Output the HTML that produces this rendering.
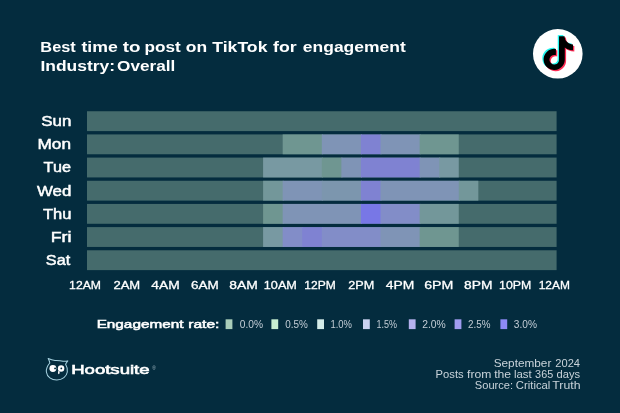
<!DOCTYPE html>
<html lang="en"><head><meta charset="utf-8"><title>Best time to post on TikTok for engagement</title>
<style>
html,body{margin:0;padding:0;background:#042C3E;}
body{width:620px;height:413px;overflow:hidden;}
svg{display:block}
text{font-family:'Liberation Sans', sans-serif;}
</style></head><body>
<svg width="620" height="413" viewBox="0 0 620 413">
<rect width="620" height="413" fill="#042C3E"/>
<text x="40.36" y="51.9" font-size="14.6" font-weight="bold" fill="#fff" textLength="35.38" lengthAdjust="spacingAndGlyphs">Best</text>
<text x="81.46" y="51.9" font-size="14.6" font-weight="bold" fill="#fff" textLength="36.36" lengthAdjust="spacingAndGlyphs">time</text>
<text x="122.84" y="51.9" font-size="14.6" font-weight="bold" fill="#fff" textLength="17.72" lengthAdjust="spacingAndGlyphs">to</text>
<text x="144.56" y="51.9" font-size="14.6" font-weight="bold" fill="#fff" textLength="36.23" lengthAdjust="spacingAndGlyphs">post</text>
<text x="185.83" y="51.9" font-size="14.6" font-weight="bold" fill="#fff" textLength="21.34" lengthAdjust="spacingAndGlyphs">on</text>
<text x="212.26" y="51.9" font-size="14.6" font-weight="bold" fill="#fff" textLength="55.21" lengthAdjust="spacingAndGlyphs">TikTok</text>
<text x="273.14" y="51.9" font-size="14.6" font-weight="bold" fill="#fff" textLength="23.63" lengthAdjust="spacingAndGlyphs">for</text>
<text x="302.86" y="51.9" font-size="14.6" font-weight="bold" fill="#fff" textLength="102.85" lengthAdjust="spacingAndGlyphs">engagement</text>
<text x="40.46" y="71.3" font-size="14.6" font-weight="bold" fill="#fff" textLength="74.65" lengthAdjust="spacingAndGlyphs">Industry:</text>
<text x="117.10" y="71.3" font-size="14.6" font-weight="bold" fill="#fff" textLength="58.24" lengthAdjust="spacingAndGlyphs">Overall</text>
<rect x="87.0" y="111.25" width="469.60" height="19.85" fill="#456B6C"/>
<text x="41.33" y="126.15" font-size="14" font-weight="normal" fill="#fff" textLength="30.14" lengthAdjust="spacingAndGlyphs" stroke="#fff" stroke-width="0.45">Sun</text>
<rect x="87.0" y="134.42" width="469.60" height="19.85" fill="#456B6C"/>
<rect x="282.67" y="134.42" width="40.13" height="19.85" fill="#6F9691"/>
<rect x="321.80" y="134.42" width="40.13" height="19.85" fill="#7F94B6"/>
<rect x="360.93" y="134.42" width="20.57" height="19.85" fill="#7F82D2"/>
<rect x="380.50" y="134.42" width="40.13" height="19.85" fill="#7F94B6"/>
<rect x="419.63" y="134.42" width="39.13" height="19.85" fill="#6F9691"/>
<text x="37.49" y="149.32" font-size="14" font-weight="normal" fill="#fff" textLength="33.52" lengthAdjust="spacingAndGlyphs" stroke="#fff" stroke-width="0.45">Mon</text>
<rect x="87.0" y="157.59" width="469.60" height="19.85" fill="#456B6C"/>
<rect x="263.10" y="157.59" width="59.70" height="19.85" fill="#7899A2"/>
<rect x="321.80" y="157.59" width="20.57" height="19.85" fill="#6F9691"/>
<rect x="341.37" y="157.59" width="20.57" height="19.85" fill="#7F94B6"/>
<rect x="360.93" y="157.59" width="59.70" height="19.85" fill="#7F82D2"/>
<rect x="419.63" y="157.59" width="20.57" height="19.85" fill="#7F94B6"/>
<rect x="439.20" y="157.59" width="19.57" height="19.85" fill="#7899A2"/>
<text x="43.64" y="172.49" font-size="14" font-weight="normal" fill="#fff" textLength="27.27" lengthAdjust="spacingAndGlyphs" stroke="#fff" stroke-width="0.45">Tue</text>
<rect x="87.0" y="180.76" width="469.60" height="19.85" fill="#456B6C"/>
<rect x="263.10" y="180.76" width="20.57" height="19.85" fill="#73979A"/>
<rect x="282.67" y="180.76" width="40.13" height="19.85" fill="#7F94B6"/>
<rect x="321.80" y="180.76" width="40.13" height="19.85" fill="#7C96AE"/>
<rect x="360.93" y="180.76" width="20.57" height="19.85" fill="#7F82D2"/>
<rect x="380.50" y="180.76" width="79.27" height="19.85" fill="#7F94B6"/>
<rect x="458.77" y="180.76" width="19.57" height="19.85" fill="#73979A"/>
<text x="37.03" y="195.66" font-size="14" font-weight="normal" fill="#fff" textLength="34.38" lengthAdjust="spacingAndGlyphs" stroke="#fff" stroke-width="0.45">Wed</text>
<rect x="87.0" y="203.93" width="469.60" height="19.85" fill="#456B6C"/>
<rect x="263.10" y="203.93" width="20.57" height="19.85" fill="#6F9691"/>
<rect x="282.67" y="203.93" width="79.27" height="19.85" fill="#7F94B6"/>
<rect x="360.93" y="203.93" width="20.57" height="19.85" fill="#7877E6"/>
<rect x="380.50" y="203.93" width="40.13" height="19.85" fill="#828DC8"/>
<rect x="419.63" y="203.93" width="39.13" height="19.85" fill="#73979A"/>
<text x="43.01" y="218.83" font-size="14" font-weight="normal" fill="#fff" textLength="28.47" lengthAdjust="spacingAndGlyphs" stroke="#fff" stroke-width="0.45">Thu</text>
<rect x="87.0" y="227.10" width="469.60" height="19.85" fill="#456B6C"/>
<rect x="263.10" y="227.10" width="20.57" height="19.85" fill="#7899A2"/>
<rect x="282.67" y="227.10" width="20.57" height="19.85" fill="#828DC8"/>
<rect x="302.23" y="227.10" width="20.57" height="19.85" fill="#7F82D2"/>
<rect x="321.80" y="227.10" width="59.70" height="19.85" fill="#828DC8"/>
<rect x="380.50" y="227.10" width="40.13" height="19.85" fill="#7F94B6"/>
<rect x="419.63" y="227.10" width="39.13" height="19.85" fill="#6F9691"/>
<text x="50.69" y="242.0" font-size="14" font-weight="normal" fill="#fff" textLength="20.81" lengthAdjust="spacingAndGlyphs" stroke="#fff" stroke-width="0.45">Fri</text>
<rect x="87.0" y="250.27" width="469.60" height="19.85" fill="#456B6C"/>
<text x="45.83" y="265.17" font-size="14" font-weight="normal" fill="#fff" textLength="24.32" lengthAdjust="spacingAndGlyphs" stroke="#fff" stroke-width="0.45">Sat</text>
<text x="69.12" y="288.6" font-size="11.6" font-weight="normal" fill="#fff" textLength="31.90" lengthAdjust="spacingAndGlyphs" stroke="#fff" stroke-width="0.3">12AM</text>
<text x="113.41" y="288.6" font-size="11.6" font-weight="normal" fill="#fff" textLength="26.79" lengthAdjust="spacingAndGlyphs" stroke="#fff" stroke-width="0.3">2AM</text>
<text x="151.27" y="288.6" font-size="11.6" font-weight="normal" fill="#fff" textLength="28.38" lengthAdjust="spacingAndGlyphs" stroke="#fff" stroke-width="0.3">4AM</text>
<text x="191.09" y="288.6" font-size="11.6" font-weight="normal" fill="#fff" textLength="27.77" lengthAdjust="spacingAndGlyphs" stroke="#fff" stroke-width="0.3">6AM</text>
<text x="229.35" y="288.6" font-size="11.6" font-weight="normal" fill="#fff" textLength="28.57" lengthAdjust="spacingAndGlyphs" stroke="#fff" stroke-width="0.3">8AM</text>
<text x="263.80" y="288.6" font-size="11.6" font-weight="normal" fill="#fff" textLength="33.08" lengthAdjust="spacingAndGlyphs" stroke="#fff" stroke-width="0.3">10AM</text>
<text x="304.30" y="288.6" font-size="11.6" font-weight="normal" fill="#fff" textLength="31.46" lengthAdjust="spacingAndGlyphs" stroke="#fff" stroke-width="0.3">12PM</text>
<text x="348.18" y="288.6" font-size="11.6" font-weight="normal" fill="#fff" textLength="26.02" lengthAdjust="spacingAndGlyphs" stroke="#fff" stroke-width="0.3">2PM</text>
<text x="385.77" y="288.6" font-size="11.6" font-weight="normal" fill="#fff" textLength="28.53" lengthAdjust="spacingAndGlyphs" stroke="#fff" stroke-width="0.3">4PM</text>
<text x="424.17" y="288.6" font-size="11.6" font-weight="normal" fill="#fff" textLength="29.17" lengthAdjust="spacingAndGlyphs" stroke="#fff" stroke-width="0.3">6PM</text>
<text x="464.05" y="288.6" font-size="11.6" font-weight="normal" fill="#fff" textLength="28.38" lengthAdjust="spacingAndGlyphs" stroke="#fff" stroke-width="0.3">8PM</text>
<text x="499.09" y="288.6" font-size="11.6" font-weight="normal" fill="#fff" textLength="32.21" lengthAdjust="spacingAndGlyphs" stroke="#fff" stroke-width="0.3">10PM</text>
<text x="538.66" y="288.6" font-size="11.6" font-weight="normal" fill="#fff" textLength="31.28" lengthAdjust="spacingAndGlyphs" stroke="#fff" stroke-width="0.3">12AM</text>
<text x="96.65" y="328" font-size="11.8" font-weight="normal" fill="#fff" textLength="86.79" lengthAdjust="spacingAndGlyphs" stroke="#fff" stroke-width="0.55">Engagement</text>
<text x="188.28" y="328" font-size="11.8" font-weight="normal" fill="#fff" textLength="31.15" lengthAdjust="spacingAndGlyphs" stroke="#fff" stroke-width="0.55">rate:</text>
<rect x="225.6" y="319.3" width="6.8" height="9.8" fill="#A9CDB9"/>
<text x="239.86" y="327.8" font-size="10.5" font-weight="normal" fill="#C3CDD6" textLength="23.27" lengthAdjust="spacingAndGlyphs">0.0%</text>
<rect x="271.4" y="319.3" width="6.8" height="9.8" fill="#C8F0D2"/>
<text x="285.26" y="327.8" font-size="10.5" font-weight="normal" fill="#C3CDD6" textLength="22.60" lengthAdjust="spacingAndGlyphs">0.5%</text>
<rect x="317.2" y="319.3" width="6.8" height="9.8" fill="#D4ECE8"/>
<text x="330.38" y="327.8" font-size="10.5" font-weight="normal" fill="#C3CDD6" textLength="21.56" lengthAdjust="spacingAndGlyphs">1.0%</text>
<rect x="363.0" y="319.3" width="6.8" height="9.8" fill="#C9D2F0"/>
<text x="376.59" y="327.8" font-size="10.5" font-weight="normal" fill="#C3CDD6" textLength="20.47" lengthAdjust="spacingAndGlyphs">1.5%</text>
<rect x="408.8" y="319.3" width="6.8" height="9.8" fill="#B5B1EE"/>
<text x="422.18" y="327.8" font-size="10.5" font-weight="normal" fill="#C3CDD6" textLength="23.58" lengthAdjust="spacingAndGlyphs">2.0%</text>
<rect x="454.6" y="319.3" width="6.8" height="9.8" fill="#A09CF0"/>
<text x="468.03" y="327.8" font-size="10.5" font-weight="normal" fill="#C3CDD6" textLength="22.39" lengthAdjust="spacingAndGlyphs">2.5%</text>
<rect x="500.4" y="319.3" width="6.8" height="9.8" fill="#8E8AF8"/>
<text x="513.87" y="327.8" font-size="10.5" font-weight="normal" fill="#C3CDD6" textLength="23.15" lengthAdjust="spacingAndGlyphs">3.0%</text>
<text x="493.67" y="367" font-size="10.2" font-weight="normal" fill="#C9D3DA" textLength="57.67" lengthAdjust="spacingAndGlyphs">September</text>
<text x="555.32" y="367" font-size="10.2" font-weight="normal" fill="#C9D3DA" textLength="24.75" lengthAdjust="spacingAndGlyphs">2024</text>
<text x="435.62" y="378.1" font-size="10.2" font-weight="normal" fill="#C9D3DA" textLength="28.08" lengthAdjust="spacingAndGlyphs">Posts</text>
<text x="467.09" y="378.1" font-size="10.2" font-weight="normal" fill="#C9D3DA" textLength="24.31" lengthAdjust="spacingAndGlyphs">from</text>
<text x="494.17" y="378.1" font-size="10.2" font-weight="normal" fill="#C9D3DA" textLength="16.98" lengthAdjust="spacingAndGlyphs">the</text>
<text x="513.94" y="378.1" font-size="10.2" font-weight="normal" fill="#C9D3DA" textLength="17.73" lengthAdjust="spacingAndGlyphs">last</text>
<text x="535.14" y="378.1" font-size="10.2" font-weight="normal" fill="#C9D3DA" textLength="18.05" lengthAdjust="spacingAndGlyphs">365</text>
<text x="556.60" y="378.1" font-size="10.2" font-weight="normal" fill="#C9D3DA" textLength="23.58" lengthAdjust="spacingAndGlyphs">days</text>
<text x="474.84" y="389.2" font-size="10.2" font-weight="normal" fill="#C9D3DA" textLength="38.19" lengthAdjust="spacingAndGlyphs">Source:</text>
<text x="515.87" y="389.2" font-size="10.2" font-weight="normal" fill="#C9D3DA" textLength="34.46" lengthAdjust="spacingAndGlyphs">Critical</text>
<text x="552.26" y="389.2" font-size="10.2" font-weight="normal" fill="#C9D3DA" textLength="28.25" lengthAdjust="spacingAndGlyphs">Truth</text>
<path d="M48.2 358.5 C50.5 359.6 53 360.3 55 360.5 C58 360.4 61 360.7 63 361.3 C64.8 361.4 66.4 361.2 67.8 360.9 C67 362 66.2 363 65.6 364.2 C67 366.5 67.7 369.5 67.3 372 C66.6 376.5 62.5 380 56.8 380 C51.5 380 47 377 46.4 372 C46.1 369 47.5 365.5 49.8 363 C49.6 361.5 49 360 48.2 358.5 Z" fill="none" stroke="#A6D2E0" stroke-width="1.05" stroke-linejoin="round"/>
<circle cx="52.9" cy="368.5" r="3.45" fill="#fff"/><circle cx="61.1" cy="368.5" r="3.2" fill="#fff"/>
<circle cx="55.1" cy="368.4" r="0.95" fill="#042C3E"/><circle cx="61.3" cy="368.4" r="0.9" fill="#042C3E"/>
<ellipse cx="58.8" cy="372.5" rx="0.8" ry="1.7" fill="#fff"/>
<text x="71.18" y="374.3" font-size="13" font-weight="normal" fill="#fff" textLength="78.41" lengthAdjust="spacingAndGlyphs" stroke="#fff" stroke-width="0.6">Hootsuite</text>
<text x="152.2" y="370" font-size="4.8" fill="#A9BFCA">®</text>
<circle cx="557.8" cy="53.8" r="24.8" fill="#fff"/>
<g transform="translate(540.1,35.1) scale(1.41)"><path d="M12.525.02c1.31-.02 2.61-.01 3.91-.02.08 1.53.63 3.09 1.75 4.17 1.12 1.11 2.7 1.62 4.24 1.79v4.03c-1.44-.05-2.89-.35-4.2-.97-.57-.26-1.1-.59-1.62-.93-.01 2.92.01 5.84-.02 8.75-.08 1.4-.54 2.79-1.35 3.94-1.31 1.92-3.58 3.17-5.91 3.21-1.43.08-2.86-.31-4.08-1.03-2.02-1.19-3.44-3.37-3.65-5.71-.02-.5-.03-1-.01-1.49.18-1.9 1.12-3.72 2.58-4.96 1.66-1.44 3.98-2.13 6.15-1.72.02 1.48-.04 2.96-.04 4.44-.99-.32-2.15-.23-3.02.37-.63.41-1.11 1.04-1.36 1.75-.21.51-.15 1.07-.14 1.61.24 1.64 1.82 3.02 3.5 2.87 1.12-.01 2.19-.66 2.77-1.61.19-.33.4-.67.41-1.06.1-1.79.06-3.57.07-5.36.01-4.03-.01-8.05.02-12.07z" fill="#25F4EE"/></g>
<g transform="translate(542.6999999999999,37.5) scale(1.41)"><path d="M12.525.02c1.31-.02 2.61-.01 3.91-.02.08 1.53.63 3.09 1.75 4.17 1.12 1.11 2.7 1.62 4.24 1.79v4.03c-1.44-.05-2.89-.35-4.2-.97-.57-.26-1.1-.59-1.62-.93-.01 2.92.01 5.84-.02 8.75-.08 1.4-.54 2.79-1.35 3.94-1.31 1.92-3.58 3.17-5.91 3.21-1.43.08-2.86-.31-4.08-1.03-2.02-1.19-3.44-3.37-3.65-5.71-.02-.5-.03-1-.01-1.49.18-1.9 1.12-3.72 2.58-4.96 1.66-1.44 3.98-2.13 6.15-1.72.02 1.48-.04 2.96-.04 4.44-.99-.32-2.15-.23-3.02.37-.63.41-1.11 1.04-1.36 1.75-.21.51-.15 1.07-.14 1.61.24 1.64 1.82 3.02 3.5 2.87 1.12-.01 2.19-.66 2.77-1.61.19-.33.4-.67.41-1.06.1-1.79.06-3.57.07-5.36.01-4.03-.01-8.05.02-12.07z" fill="#FE2C55"/></g>
<g transform="translate(541.4,36.2) scale(1.41)"><path d="M12.525.02c1.31-.02 2.61-.01 3.91-.02.08 1.53.63 3.09 1.75 4.17 1.12 1.11 2.7 1.62 4.24 1.79v4.03c-1.44-.05-2.89-.35-4.2-.97-.57-.26-1.1-.59-1.62-.93-.01 2.92.01 5.84-.02 8.75-.08 1.4-.54 2.79-1.35 3.94-1.31 1.92-3.58 3.17-5.91 3.21-1.43.08-2.86-.31-4.08-1.03-2.02-1.19-3.44-3.37-3.65-5.71-.02-.5-.03-1-.01-1.49.18-1.9 1.12-3.72 2.58-4.96 1.66-1.44 3.98-2.13 6.15-1.72.02 1.48-.04 2.96-.04 4.44-.99-.32-2.15-.23-3.02.37-.63.41-1.11 1.04-1.36 1.75-.21.51-.15 1.07-.14 1.61.24 1.64 1.82 3.02 3.5 2.87 1.12-.01 2.19-.66 2.77-1.61.19-.33.4-.67.41-1.06.1-1.79.06-3.57.07-5.36.01-4.03-.01-8.05.02-12.07z" fill="#000"/></g>
</svg></body></html>
